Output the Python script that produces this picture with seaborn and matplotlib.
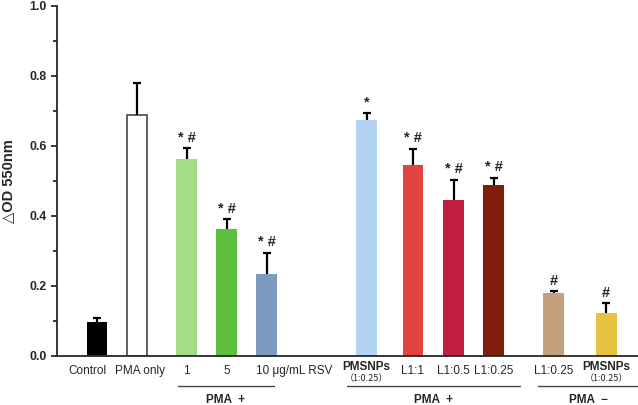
import numpy as np
import pandas as pd
import seaborn as sns
import matplotlib.pyplot as plt

# data
labels = ["Control", "PMA only", "1", "5", "10 μg/mL RSV",
          "PMSNPs", "L1:1", "L1:0.5", "L1:0.25", "L1:0.25", "PMSNPs"]
means = [0.098, 0.689, 0.563, 0.363, 0.234,
         0.675, 0.546, 0.445, 0.487, 0.179, 0.123]
upper = [0.109, 0.780, 0.593, 0.391, 0.295,
         0.695, 0.591, 0.503, 0.509, 0.185, 0.151]
marks = ["", "", "*#", "*#", "*#", "*", "*#", "*#", "*#", "#", "#"]
colors = ["#000000", "#ffffff", "#a3dd85", "#5cbf3f", "#7b9bbf",
          "#b3d3f3", "#e2433f", "#c21d41", "#801d0b", "#c4a07e", "#e6c142"]
groups = [("PMA  +", 2.02, 4.42), ("PMA  +", 6.25, 10.58), ("PMA  \u2212", 11.02, 13.55)]

# layout: bar positions (40 px per unit) and label nudges
pos = [0, 1, 2.24, 3.24, 4.24, 6.74, 7.9, 8.92, 9.92, 11.42, 12.73]
nudge = [-0.24, 0.08, 0, 0, 0, 0, 0, 0, 0, 0, 0]

sns.set_style("ticks")
plt.rcParams["font.family"] = ["Liberation Sans", "DejaVu Sans"]

df = pd.DataFrame({"pos": pos, "mean": means})

fig = plt.figure(figsize=(6.38, 4.05), dpi=100)
ax = fig.add_axes([0.0893, 0.121, 0.9107, 0.865])

sns.barplot(data=df, x="pos", y="mean", hue="pos",
            palette=dict(zip(pos, colors)), native_scale=True, saturation=1,
            width=0.52, legend=False, linewidth=0, ax=ax)
for p in ax.patches:
    fc = p.get_facecolor()
    if fc[0] > 0.99 and fc[1] > 0.99 and fc[2] > 0.99:
        p.set_edgecolor("#555555")
        p.set_linewidth(1.3)

# upper-only error bars
ax.vlines(pos, means, upper, color="black", lw=1.6, zorder=3)
ax.hlines(upper, np.array(pos) - 0.1, np.array(pos) + 0.1, color="black", lw=1.6, zorder=3)

for x, u, m in zip(pos, upper, marks):
    if m:
        ax.text(x, u + 0.01, " ".join(m), ha="center", va="bottom",
                fontsize=10.5, fontweight="bold")

ax.set_xlim(-1.0, 13.525)
ax.set_ylim(0, 1.0)
ax.set_yticks(np.arange(0, 1.01, 0.2))
ax.set_yticks(np.arange(0.1, 1.0, 0.2), minor=True)
ax.set_yticklabels([f"{v:.1f}" for v in np.arange(0, 1.01, 0.2)],
                   fontsize=8.8, fontweight="bold")
ax.tick_params(axis="y", which="both", direction="out", width=1.3)
ax.tick_params(axis="y", which="major", length=4)
ax.tick_params(axis="y", which="minor", length=3)
ax.set_xticks([])
ax.set_xlabel("")
ax.set_ylabel("△OD 550nm", fontsize=10.5, fontweight="bold")
ax.yaxis.set_label_coords(-0.072, 0.5)
sns.despine(ax=ax)
for s in ["left", "bottom"]:
    ax.spines[s].set_linewidth(1.3)

trans = ax.get_xaxis_transform()
for x, dx, lab in zip(pos, nudge, labels):
    if lab == "PMSNPs":
        ax.text(x, -0.031, lab, transform=trans, ha="center", va="center",
                fontsize=8.5, fontweight="bold")
        ax.text(x, -0.064, "（1:0.25）", transform=trans, ha="center",
                va="center", fontsize=6.5, family=["Noto Sans CJK SC", "DejaVu Sans"])
    elif lab.startswith("10"):
        ax.text(x - 0.27, -0.043, lab, transform=trans, ha="left",
                va="center", fontsize=8.5)
    else:
        ax.text(x + dx, -0.043, lab, transform=trans, ha="center", va="center",
                fontsize=8.5)

for name, x0, x1 in groups:
    ax.plot([x0, x1], [-0.086, -0.086], transform=trans, color="#444444",
            lw=1.0, clip_on=False)
    ax.text((x0 + x1) / 2, -0.126, name, transform=trans, ha="center",
            va="center", fontsize=8.5, fontweight="bold")

fig.savefig("out.png", dpi=100)
